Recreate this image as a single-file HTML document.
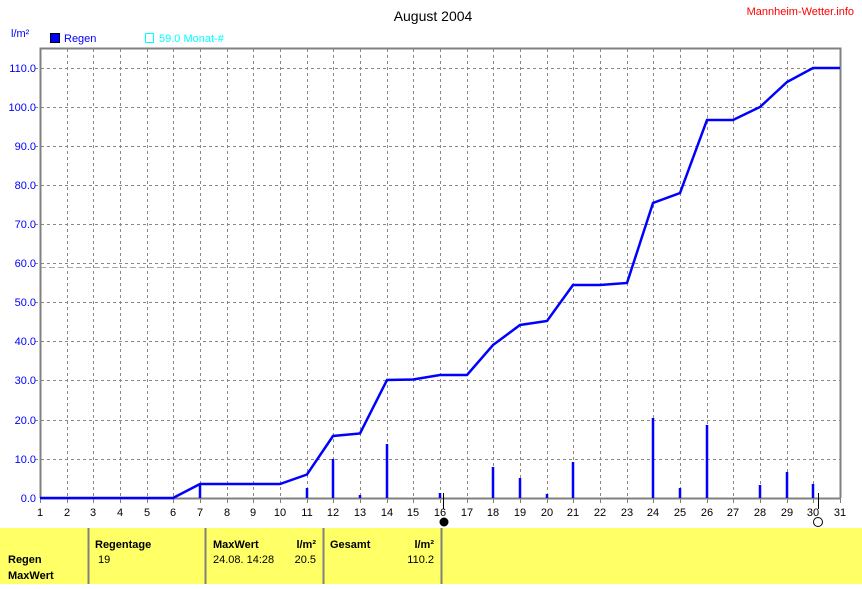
<!DOCTYPE html>
<html><head><style>
body{margin:0;background:#fff;width:862px;height:584px;overflow:hidden;font-family:"Liberation Sans",sans-serif}
</style></head><body>
<svg width="862" height="584" xmlns="http://www.w3.org/2000/svg" font-family="Liberation Sans, sans-serif">
<rect width="862" height="584" fill="#fff"/>
<text x="433" y="21" font-size="14" text-anchor="middle" fill="#000">August 2004</text>
<text x="854" y="15" font-size="11" text-anchor="end" fill="#f00">Mannheim-Wetter.info</text>
<text x="11" y="37" font-size="11" fill="#00f">l/m²</text>
<rect x="50.5" y="33.5" width="9" height="9" fill="#00f" stroke="#000"/>
<text x="64" y="42" font-size="11" fill="#00f">Regen</text>
<path d="M145.5 33.5h8v9h-8z" fill="none" stroke="#0ff"/>
<text x="159" y="42" font-size="11" fill="#0ff">59.0 Monat-#</text>
<g stroke="#888" stroke-dasharray="3,3" stroke-width="1">
<path id="vg" d="M67.5 49V498M93.5 49V498M120.5 49V498M147.5 49V498M173.5 49V498M200.5 49V498M227.5 49V498M253.5 49V498M280.5 49V498M307.5 49V498M333.5 49V498M360.5 49V498M387.5 49V498M413.5 49V498M440.5 49V498M467.5 49V498M493.5 49V498M520.5 49V498M547.5 49V498M573.5 49V498M600.5 49V498M627.5 49V498M653.5 49V498M680.5 49V498M707.5 49V498M733.5 49V498M760.5 49V498M787.5 49V498M813.5 49V498"/>
<path d="M35 68.5H840M35 107.5H840M35 146.5H840M35 185.5H840M35 224.5H840M35 263.5H840M35 302.5H840M35 341.5H840M35 380.5H840M35 420.5H840M35 459.5H840"/>
<path d="M40 267.5H840" stroke="#aaa" stroke-dasharray="6,3"/>
</g>
<path d="M40.5 498V48.5H840.5V498" fill="none" stroke="#808080" stroke-width="2"/>
<path d="M40 498.5H840" stroke="#808080" stroke-width="2"/>
<g font-size="11" fill="#00f" text-anchor="end">
<text x="36" y="72">110.0</text><text x="36" y="111">100.0</text><text x="36" y="150">90.0</text><text x="36" y="189">80.0</text><text x="36" y="228">70.0</text><text x="36" y="267">60.0</text><text x="36" y="306">50.0</text><text x="36" y="345">40.0</text><text x="36" y="384">30.0</text><text x="36" y="424">20.0</text><text x="36" y="463">10.0</text><text x="36" y="502">0.0</text>
</g>
<g font-size="11" fill="#000" text-anchor="middle">
<text x="40" y="516">1</text><text x="67" y="516">2</text><text x="93" y="516">3</text><text x="120" y="516">4</text><text x="147" y="516">5</text><text x="173" y="516">6</text><text x="200" y="516">7</text><text x="227" y="516">8</text><text x="253" y="516">9</text><text x="280" y="516">10</text><text x="307" y="516">11</text><text x="333" y="516">12</text><text x="360" y="516">13</text><text x="387" y="516">14</text><text x="413" y="516">15</text><text x="440" y="516">16</text><text x="467" y="516">17</text><text x="493" y="516">18</text><text x="520" y="516">19</text><text x="547" y="516">20</text><text x="573" y="516">21</text><text x="600" y="516">22</text><text x="627" y="516">23</text><text x="653" y="516">24</text><text x="680" y="516">25</text><text x="707" y="516">26</text><text x="733" y="516">27</text><text x="760" y="516">28</text><text x="787" y="516">29</text><text x="813" y="516">30</text><text x="840" y="516">31</text>
</g>
<g stroke="#808080"><path d="M40.5 498v5M67.5 498v5M93.5 498v5M120.5 498v5M147.5 498v5M173.5 498v5M200.5 498v5M227.5 498v5M253.5 498v5M280.5 498v5M307.5 498v5M333.5 498v5M360.5 498v5M387.5 498v5M413.5 498v5M440.5 498v5M467.5 498v5M493.5 498v5M520.5 498v5M547.5 498v5M573.5 498v5M600.5 498v5M627.5 498v5M653.5 498v5M680.5 498v5M707.5 498v5M733.5 498v5M760.5 498v5M787.5 498v5M813.5 498v5M840.5 498v5"/></g>
<g stroke="#00f" stroke-width="2.5">
<path d="M200 498V484M307 498V488M333 498V459M360 498V495M387 498V444M440 498V493M493 498V467M520 498V478M547 498V494M573 498V462M653 498V418M680 498V488M707 498V425M760 498V485M787 498V472M813 498V484"/>
</g>
<polyline fill="none" stroke="#00f" stroke-width="2.5" points="40,498 173,498 200,484 280,484 307,474.5 333,436 360,433.5 387,380 413,379.5 440,375 467,375 493,345 520,325 547,321 573,285 600,285 627,283 653,203 680,193 707,120 733,120 760,107 787,82 813,68 840,68"/>
<path d="M443.5 493v16M818.5 493v16" stroke="#000"/>
<circle cx="444" cy="522" r="4.5" fill="#000"/>
<circle cx="818" cy="522" r="4.5" fill="#fff" stroke="#000"/>
<rect x="0" y="528" width="862" height="56" fill="#ffff66"/>
<path d="M88.5 528V584M205.5 528V584M323.5 528V584M441.5 528V584" stroke="#808080" stroke-width="2"/>
<g font-size="11" font-weight="bold" fill="#000">
<text x="8" y="563">Regen</text><text x="8" y="579">MaxWert</text>
<text x="95" y="548">Regentage</text>
<text x="213" y="548">MaxWert</text><text x="316" y="548" text-anchor="end">l/m²</text>
<text x="330" y="548">Gesamt</text><text x="434" y="548" text-anchor="end">l/m²</text>
</g>
<g font-size="11" fill="#000">
<text x="98" y="563">19</text>
<text x="213" y="563">24.08.  14:28</text><text x="316" y="563" text-anchor="end">20.5</text>
<text x="434" y="563" text-anchor="end">110.2</text>
</g>
</svg>
</body></html>
